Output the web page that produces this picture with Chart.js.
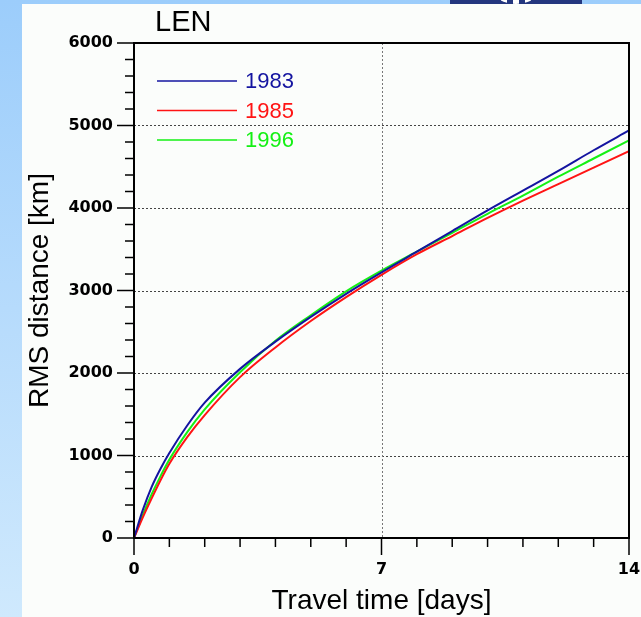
<!DOCTYPE html>
<html>
<head>
<meta charset="utf-8">
<script src="https://cdn.jsdelivr.net/npm/chart.js@4.4.1/dist/chart.umd.min.js"></script>
<style>
  html, body { margin: 0; padding: 0; }
  body { width: 641px; height: 617px; position: relative; overflow: hidden;
         background: linear-gradient(to bottom, #9ccdfb 0%, #b6dbfc 50%, #cfe9fd 100%); }
  #panel { position: absolute; left: 22px; top: 4px; right: 0; bottom: 0; background: #fbfdfb; }
  #logo { position: absolute; left: 450px; top: 0; width: 132px; height: 4px; background: #24377f; overflow: hidden; }
  #logo span { position: absolute; left: 38px; top: -40px; width: 56px; height: 44px; border-radius: 50%;
               background: repeating-conic-gradient(from 0deg at 50% 0%, #ffffff 0deg 8deg, #24377f 8deg 16deg); }
  #wrap { position: absolute; left: 0; top: 0; width: 641px; height: 617px; }
</style>
</head>
<body>
<div id="panel"></div>
<div id="logo"><span></span></div>
<div id="wrap"><canvas id="myChart" width="641" height="617"></canvas></div>
<script>
// travel time in days
const days = [0, 0.25, 0.5, 0.75, 1, 1.5, 2, 3, 4, 5, 6, 7, 8, 9, 10, 11, 12, 13, 14];
// RMS distance in km for each year
const rms1983 = [0, 340, 620, 840, 1030, 1360, 1640, 2050, 2380, 2680, 2960, 3220, 3470, 3720, 3970, 4210, 4450, 4700, 4940];
const rms1985 = [0, 250, 480, 700, 900, 1220, 1490, 1950, 2310, 2630, 2920, 3190, 3440, 3660, 3880, 4090, 4290, 4490, 4690];
const rms1996 = [0, 280, 530, 750, 950, 1280, 1560, 2010, 2390, 2700, 2990, 3240, 3470, 3700, 3930, 4150, 4380, 4600, 4820];
const years = ['1983', '1985', '1996'];
const colors = ['#1414a0', '#ff1414', '#14f014'];

const xTicks = [0, 7, 14];
const yTicks = [0, 1000, 2000, 3000, 4000, 5000, 6000];

const series = [rms1983, rms1985, rms1996];
const datasets = series.map((vals, i) => ({
    label: years[i],
    data: days.map((d, j) => ({ x: d, y: vals[j] })),
    borderColor: colors[i],
    borderWidth: 2,
    pointRadius: 0,
    fill: false,
    cubicInterpolationMode: 'monotone'
}));

// grid, minor ticks, frame, legend and titles
const decor = {
    id: 'decor',
    beforeDatasetsDraw(chart) {
        const { ctx, chartArea: a, scales: { x, y } } = chart;
        ctx.save();
        ctx.setLineDash([2, 2]);
        ctx.lineWidth = 1;
        ctx.strokeStyle = '#444';
        yTicks.slice(1, -1).forEach(v => {
            const py = Math.round(y.getPixelForValue(v)) + 0.5;
            ctx.beginPath(); ctx.moveTo(a.left, py); ctx.lineTo(a.right, py); ctx.stroke();
        });
        ctx.strokeStyle = '#777';
        xTicks.slice(1, -1).forEach(v => {
            const px = Math.round(x.getPixelForValue(v)) + 0.5;
            ctx.beginPath(); ctx.moveTo(px, a.top); ctx.lineTo(px, a.bottom); ctx.stroke();
        });
        ctx.restore();
    },
    afterDatasetsDraw(chart) {
        const { ctx, chartArea: a, scales: { x, y } } = chart;
        ctx.save();
        ctx.strokeStyle = '#000';
        ctx.lineWidth = 2;
        // frame
        ctx.beginPath();
        ctx.moveTo(a.left, a.top); ctx.lineTo(a.right, a.top);
        ctx.lineTo(a.right, a.bottom); ctx.lineTo(a.left, a.bottom);
        ctx.closePath();
        ctx.stroke();
        // y ticks
        ctx.lineWidth = 1.5;
        for (let v = 0; v <= 6000; v += 200) {
            const py = y.getPixelForValue(v);
            const len = v % 1000 === 0 ? 17 : 9;
            ctx.beginPath(); ctx.moveTo(a.left - len, py); ctx.lineTo(a.left, py); ctx.stroke();
        }
        // x ticks
        for (let d = 0; d <= 14; d++) {
            const px = x.getPixelForValue(d);
            const len = xTicks.includes(d) ? 17 : 9;
            ctx.beginPath(); ctx.moveTo(px, a.bottom); ctx.lineTo(px, a.bottom + len); ctx.stroke();
        }
        // legend
        ctx.font = '22px "Liberation Sans", Arial, sans-serif';
        ctx.textBaseline = 'middle';
        ctx.textAlign = 'left';
        chart.data.datasets.forEach((ds, i) => {
            const ly = 81 + i * 29.5;
            ctx.strokeStyle = ds.borderColor;
            ctx.lineWidth = 1.5;
            ctx.beginPath(); ctx.moveTo(157, ly); ctx.lineTo(237, ly); ctx.stroke();
            ctx.fillStyle = ds.borderColor;
            ctx.fillText(ds.label, 245, ly + 1);
        });
        // titles
        ctx.fillStyle = '#000';
        ctx.textBaseline = 'alphabetic';
        ctx.font = '29px "Liberation Sans", Arial, sans-serif';
        ctx.fillText('LEN', 155, 31);
        ctx.font = '28px "Liberation Sans", Arial, sans-serif';
        ctx.textAlign = 'center';
        ctx.fillText('Travel time [days]', (a.left + a.right) / 2, 609);
        ctx.translate(48, (a.top + a.bottom) / 2);
        ctx.rotate(-Math.PI / 2);
        ctx.fillText('RMS distance [km]', 0, 0);
        ctx.restore();
    }
};

const tickFont = { family: '"DejaVu Sans", sans-serif', size: 16, weight: 'bold' };

new Chart(document.getElementById('myChart').getContext('2d'), {
    type: 'line',
    data: { datasets },
    options: {
        responsive: false,
        animation: false,
        layout: { padding: { top: 43, right: 12, left: 0, bottom: 0 } },
        scales: {
            x: {
                type: 'linear',
                min: 0, max: 14,
                afterBuildTicks: s => { s.ticks = xTicks.map(v => ({ value: v })); },
                afterFit: s => { s.height = 79; s.paddingLeft = 0; s.paddingRight = 0; },
                grid: { display: false, drawTicks: false },
                border: { display: false },
                ticks: { font: tickFont, color: '#000', padding: 22, maxRotation: 0, autoSkip: false,
                         callback: v => String(v) }
            },
            y: {
                min: 0, max: 6000,
                afterBuildTicks: s => { s.ticks = yTicks.map(v => ({ value: v })); },
                afterFit: s => { s.width = 134; s.paddingTop = 0; s.paddingBottom = 0; },
                grid: { display: false, drawTicks: false },
                border: { display: false },
                ticks: { font: tickFont, color: '#000', padding: 21, autoSkip: false,
                         callback: v => String(v) }
            }
        },
        plugins: {
            legend: { display: false },
            tooltip: { enabled: false }
        }
    },
    plugins: [decor]
});
</script>
</body>
</html>
